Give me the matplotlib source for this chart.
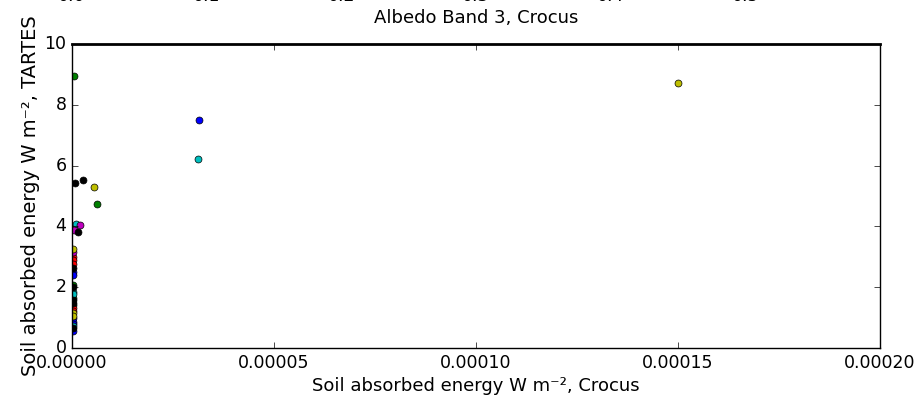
import matplotlib
matplotlib.use("Agg")
from matplotlib import pyplot as plt
from matplotlib.ticker import FormatStrFormatter

# Soil absorbed energy, Crocus (x) vs TARTES (y), one group per colour
x_b = [3.14e-5, 3e-7, 3e-7, 3e-7, 3e-7, 3e-7, 3e-7]
y_b = [7.50, 2.51, 2.40, 0.99, 0.86, 0.79, 0.55]
x_g = [5e-7, 6.1e-6, 3e-7, 3e-7, 3e-7]
y_g = [8.95, 4.75, 2.07, 1.65, 1.40]
x_r = [3e-7, 3e-7, 3e-7, 3e-7, 3e-7]
y_r = [3.00, 2.90, 2.75, 1.31, 1.22]
x_c = [3.12e-5, 1.0e-6, 3e-7, 3e-7, 3e-7]
y_c = [6.22, 4.08, 1.85, 1.78, 0.72]
x_m = [2.1e-6, 5e-7, 3e-7]
y_m = [4.06, 3.88, 3.17]
x_y = [1.50e-4, 5.5e-6, 3e-7, 3e-7, 3e-7]
y_y = [8.72, 5.31, 3.26, 1.15, 1.05]
x_k = [8e-7, 2.8e-6, 1.4e-6, 3e-7, 3e-7, 3e-7, 3e-7, 3e-7]
y_k = [5.44, 5.53, 3.83, 2.62, 2.00, 1.58, 1.48, 0.66]

xticks = [0.0, 0.00005, 0.00010, 0.00015, 0.00020]
yticks = [0, 2, 4, 6, 8, 10]
albedo_ticks = [0.0, 0.1, 0.2, 0.3, 0.4, 0.5]

plt.style.use('classic')
plt.rcParams['font.family'] = 'DejaVu Sans'

fig = plt.figure(figsize=(9.19, 3.98), dpi=100, facecolor='white')

# bottom of the panel above (albedo), cut by the figure edge
ax_top = fig.add_axes([0.0783, 1.047, 0.8793, 0.5])
ax_top.set_xlim(0, 0.6)
ax_top.set_xticks(albedo_ticks)
ax_top.set_xticklabels(['%.1f' % t for t in albedo_ticks], fontsize=12.5)
ax_top.set_yticks([])
ax_top.set_xlabel('Albedo Band 3, Crocus', fontsize=13, labelpad=3)

ax = fig.add_axes([0.0783, 0.1256, 0.8793, 0.7638])
groups = [(x_b, y_b), (x_g, y_g), (x_r, y_r), (x_c, y_c),
          (x_m, y_m), (x_y, y_y), (x_k, y_k)]
for (gx, gy), col in zip(groups, ['b', 'g', 'r', 'c', 'm', 'y', 'k']):
    ax.scatter(gx, gy, c=col, s=25, edgecolors='k', linewidths=0.5)

ax.set_xlim(0, 0.0002)
ax.set_ylim(0, 10)
ax.set_xticks(xticks)
ax.set_yticks(yticks)
ax.xaxis.set_major_formatter(FormatStrFormatter('%.5f'))
ax.tick_params(labelsize=12.5)
ax.set_xlabel(u'Soil absorbed energy W m\u207b\u00b2, Crocus', fontsize=13, labelpad=4)
ax.set_ylabel(u'Soil absorbed energy W m\u207b\u00b2, TARTES', fontsize=14, labelpad=3)
ax.spines['top'].set_linewidth(2)

fig.savefig('out.png', dpi=100, facecolor='white')
plt.close()
